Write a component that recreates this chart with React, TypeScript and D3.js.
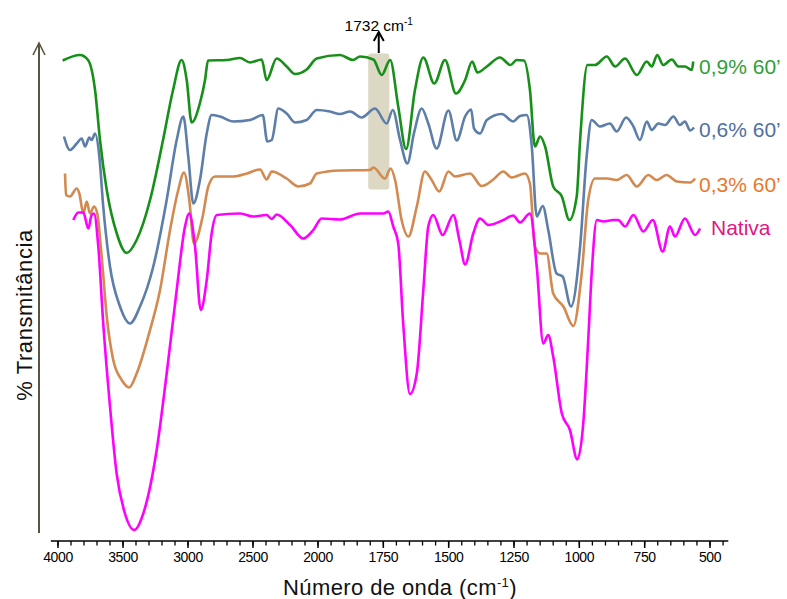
import React, { useEffect, useRef } from 'react';
import * as d3 from 'd3';

const W = 787;
const H = 599;

// [número de onda (cm-1), transmitância (u.a.)]
const nativa: [number, number][] = [
  [3882, 64], [3844, 65.5], [3805, 65.5], [3767, 62.3], [3741, 65], [3723, 65.3], [3690, 58.7],
  [3652, 43.3], [3600, 26.7], [3549, 13.3], [3485, 5.3], [3413, 2], [3344, 5.3], [3241, 18],
  [3164, 33.3], [3087, 50], [3023, 62.7], [2990, 65.3], [2946, 58.7], [2902, 46], [2856, 52],
  [2818, 61.3], [2779, 65], [2600, 65.3], [2498, 64.7], [2395, 65], [2356, 64.2], [2318, 65.1],
  [2215, 63], [2113, 60.3], [2036, 62], [1986, 64.3], [1916, 64.1], [1839, 65.3], [1750, 65.3],
  [1731, 65.7], [1712, 62.7], [1693, 59.3], [1674, 43.3], [1648, 29.2], [1622, 33.3], [1597, 50],
  [1578, 62.7], [1559, 65], [1523, 61], [1482, 65], [1459, 60], [1437, 55.1], [1406, 61.3],
  [1380, 64.3], [1348, 63], [1291, 64], [1253, 64.9], [1227, 63.5], [1189, 65.3], [1163, 54.7],
  [1138, 39.3], [1119, 41], [1100, 36.7], [1067, 25.3], [1036, 22], [1008, 16.1], [985, 23.3],
  [966, 40], [952, 54], [933, 64], [908, 63.7], [870, 64], [851, 64], [825, 62.7], [793, 65],
  [755, 61.7], [719, 64], [681, 57.7], [653, 62.7], [634, 60.7], [596, 64.3], [557, 61], [538, 62.3],
];

const amido03: [number, number][] = [
  [3946, 73.3], [3938, 69], [3908, 68.7], [3856, 70.3], [3836, 69.3], [3805, 65.3], [3779, 67.7],
  [3754, 65.3], [3723, 66.7], [3698, 65.3], [3664, 56.7], [3625, 44.7], [3575, 36], [3510, 32],
  [3452, 30.5], [3395, 33.3], [3292, 42], [3215, 50], [3138, 62], [3075, 70], [3031, 73.5],
  [2990, 68], [2954, 59.3], [2887, 64.7], [2844, 70.7], [2792, 72.7], [2652, 72.7], [2548, 73.3],
  [2446, 74.1], [2395, 72.1], [2356, 73.7], [2241, 72.3], [2152, 70.7], [2062, 71.3], [2010, 73.3],
  [1916, 73.9], [1801, 74], [1788, 74.5], [1744, 72.3], [1722, 74.3], [1705, 72], [1680, 64],
  [1654, 60.7], [1622, 66.7], [1591, 73.7], [1565, 72], [1536, 69.7], [1501, 73.7], [1476, 72.7],
  [1418, 73.3], [1374, 70.8], [1329, 72.1], [1291, 73.7], [1259, 72.5], [1208, 73.3], [1189, 71.3],
  [1170, 58.7], [1150, 57.3], [1125, 57.3], [1100, 49.3], [1061, 46.7], [1023, 42.8], [991, 53.3],
  [966, 68], [940, 72.3], [895, 72.3], [857, 72], [819, 73], [780, 70.7], [736, 73], [704, 72],
  [666, 73], [627, 71.7], [576, 71.5], [557, 72.3],
];

const amido06: [number, number][] = [
  [3954, 80.7], [3908, 78], [3856, 79.3], [3818, 80.3], [3792, 78.7], [3759, 80.5], [3741, 80],
  [3715, 81.3], [3682, 76.7], [3652, 66.7], [3600, 54.7], [3523, 46.7], [3446, 43.3], [3369, 46.7],
  [3267, 54.7], [3164, 68], [3087, 80], [3036, 84.7], [2998, 76.7], [2959, 67.3], [2908, 72],
  [2856, 81.3], [2818, 85], [2754, 84.7], [2651, 83.7], [2523, 84], [2425, 85], [2390, 79.7],
  [2356, 80], [2305, 86.3], [2241, 85.3], [2177, 83.5], [2087, 84], [2010, 86], [1954, 85.7],
  [1916, 85.2], [1877, 85.7], [1833, 84.5], [1782, 86.3], [1737, 83.3], [1714, 86], [1686, 80],
  [1658, 75.3], [1633, 81.3], [1603, 86.3], [1578, 83.3], [1546, 78.3], [1501, 85.9], [1469, 79.9],
  [1437, 84.7], [1414, 86.1], [1403, 82.3], [1380, 81.3], [1354, 84], [1297, 85.2], [1253, 83.7],
  [1227, 84.8], [1201, 85], [1182, 78.7], [1163, 64.7], [1140, 66.8], [1119, 62], [1087, 53.3],
  [1064, 52.7], [1032, 46.7], [997, 58.7], [972, 76.7], [953, 84], [921, 82.7], [883, 83.3],
  [857, 81.7], [821, 84.5], [793, 82.7], [768, 80], [742, 83.7], [723, 82], [698, 83.3], [672, 83],
  [640, 84.7], [615, 83], [596, 83.7], [576, 81.9], [561, 82.5],
];

const amido09: [number, number][] = [
  [3964, 95.9], [3831, 97], [3769, 96], [3715, 90], [3677, 80], [3625, 70], [3549, 61.4],
  [3472, 57.4], [3395, 60], [3292, 68], [3192, 80], [3115, 90], [3049, 96], [3010, 92],
  [2972, 83.5], [2908, 87.4], [2869, 92], [2846, 95.9], [2702, 96], [2600, 96.4], [2523, 95.5],
  [2433, 96.1], [2395, 92], [2318, 96.3], [2241, 94.7], [2177, 93.2], [2087, 94.1], [2010, 96.3],
  [1916, 97], [1866, 96], [1839, 96.7], [1788, 96.1], [1756, 93], [1724, 96], [1693, 86.7],
  [1663, 78.2], [1629, 90], [1597, 96.5], [1555, 91.3], [1514, 96], [1472, 89.3], [1437, 92],
  [1410, 95.7], [1390, 93.5], [1354, 94.7], [1304, 96.5], [1263, 95], [1240, 96], [1212, 95.9],
  [1189, 90], [1170, 78.7], [1150, 80.7], [1131, 78.7], [1100, 70.7], [1067, 68.7], [1038, 64],
  [1010, 68.7], [997, 80], [969, 95], [940, 95], [895, 96.7], [863, 94.7], [825, 96.3], [780, 93],
  [742, 95.7], [723, 94.7], [702, 97], [679, 95], [646, 96.1], [621, 94.7], [596, 94.7], [570, 94],
  [564, 95.7],
];

const majorTicks = [4000, 3500, 3000, 2500, 2000, 1750, 1500, 1250, 1000, 750, 500];
const band1732: [number, number] = [1808, 1727];

const series = [
  { name: "0,3% 60’", data: amido03, color: '#d28a50', text: '#e8782a', lx: 699, ly: 192 },
  { name: "0,6% 60’", data: amido06, color: '#5d7ea8', text: '#4f6fa2', lx: 699, ly: 137 },
  { name: "0,9% 60’", data: amido09, color: '#17901a', text: '#2f9e36', lx: 699, ly: 74 },
  { name: 'Nativa', data: nativa, color: '#ff00ff', text: '#e0177f', lx: 711, ly: 235 },
];

export default function App() {
  const ref = useRef<SVGSVGElement>(null);

  useEffect(() => {
    const svg = d3.select(ref.current);
    svg.selectAll('*').remove();

    // eixo de número de onda quebrado em 2000 cm-1
    const x = d3.scaleLinear().domain([4000, 2000, 500]).range([58, 318, 710]);
    const y = d3.scaleLinear().domain([0, 100]).range([540, 40]);
    const font = 'Liberation Sans, Arial, sans-serif';

    // faixa 1732
    const bx0 = x(band1732[0]);
    const bx1 = x(band1732[1]);
    const bc = (bx0 + bx1) / 2;
    svg.append('rect')
      .attr('x', bx0).attr('y', y(97.3))
      .attr('width', bx1 - bx0).attr('height', y(70.1) - y(97.3))
      .attr('rx', 3)
      .attr('fill', '#dcd8c4');

    svg.append('line')
      .attr('x1', bc).attr('x2', bc).attr('y1', 53).attr('y2', 32)
      .attr('stroke', '#000').attr('stroke-width', 2);
    svg.append('polyline')
      .attr('points', `${bc - 5},41 ${bc},32 ${bc + 5},41`)
      .attr('fill', 'none').attr('stroke', '#000').attr('stroke-width', 2);

    const ann = svg.append('text')
      .attr('x', bc).attr('y', 30.5)
      .attr('text-anchor', 'middle')
      .attr('font-family', font).attr('font-size', 15.5)
      .attr('fill', '#000');
    ann.append('tspan').text('1732 cm');
    ann.append('tspan').attr('dy', -6).attr('font-size', 10).text('-1');

    // espectros
    const line = d3.line<[number, number]>()
      .x(d => x(d[0]))
      .y(d => y(d[1]))
      .curve(d3.curveMonotoneX);

    series.forEach(s => {
      svg.append('path')
        .datum(s.data)
        .attr('d', line)
        .attr('fill', 'none')
        .attr('stroke', s.color)
        .attr('stroke-width', 2.6)
        .attr('stroke-linejoin', 'round');

      svg.append('text')
        .attr('x', s.lx).attr('y', s.ly)
        .attr('font-family', font).attr('font-size', 21)
        .attr('fill', s.text)
        .text(s.name);
    });

    // eixo x
    const axisY = 541;
    svg.append('line')
      .attr('x1', x(4055)).attr('x2', x(430))
      .attr('y1', axisY).attr('y2', axisY)
      .attr('stroke', '#000').attr('stroke-width', 1.5);

    const minor = d3.range(4000, 2000, -100).concat(d3.range(2000, 449, -50));
    svg.selectAll('.minor')
      .data(minor)
      .enter()
      .append('line')
      .attr('x1', d => x(d)).attr('x2', d => x(d))
      .attr('y1', axisY).attr('y2', axisY + 4.5)
      .attr('stroke', '#000').attr('stroke-width', 1.3);

    svg.selectAll('.major')
      .data(majorTicks)
      .enter()
      .append('line')
      .attr('x1', d => x(d)).attr('x2', d => x(d))
      .attr('y1', axisY).attr('y2', axisY + 7)
      .attr('stroke', '#000').attr('stroke-width', 1.5);

    svg.selectAll('.tlabel')
      .data(majorTicks)
      .enter()
      .append('text')
      .attr('x', d => x(d)).attr('y', 561.5)
      .attr('text-anchor', 'middle')
      .attr('font-family', font).attr('font-size', 14)
      .attr('letter-spacing', -0.4)
      .attr('fill', '#000')
      .text(d => d);

    const xl = svg.append('text')
      .attr('x', 400).attr('y', 595)
      .attr('text-anchor', 'middle')
      .attr('font-family', font).attr('font-size', 22)
      .attr('letter-spacing', 0.4)
      .attr('fill', '#111');
    xl.append('tspan').text('Número de onda (cm');
    xl.append('tspan').attr('dy', -8).attr('font-size', 13).text('-1');
    xl.append('tspan').attr('dy', 8).text(')');

    // eixo y (seta)
    svg.append('line')
      .attr('x1', 39).attr('x2', 39).attr('y1', 533).attr('y2', 43)
      .attr('stroke', '#5a5540').attr('stroke-width', 2);
    svg.append('polyline')
      .attr('points', '33,55 39,43 45,55')
      .attr('fill', 'none').attr('stroke', '#5a5540').attr('stroke-width', 1.6);

    svg.append('text')
      .attr('transform', 'translate(31.5,315) rotate(-90)')
      .attr('text-anchor', 'middle')
      .attr('font-family', font).attr('font-size', 22)
      .attr('letter-spacing', 0.6)
      .attr('fill', '#111')
      .text('% Transmitância');
  }, []);

  return (
    <div style={{ position: 'absolute', left: 0, top: 0 }}>
      <svg ref={ref} width={W} height={H} style={{ display: 'block', background: '#fff' }} />
    </div>
  );
}
